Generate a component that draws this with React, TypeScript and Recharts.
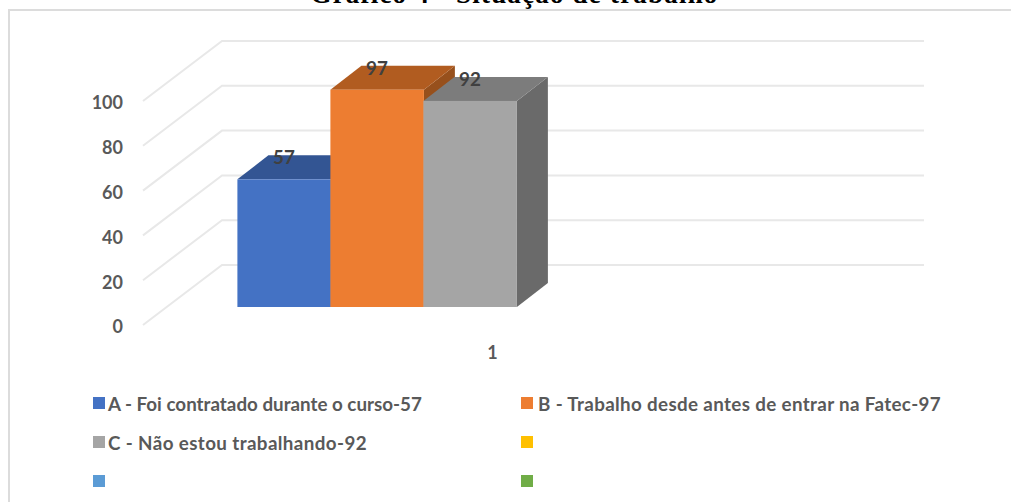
import React from "react";
import { BarChart, Bar, XAxis, YAxis, CartesianGrid, Legend, LabelList } from "recharts";

const categories = ["1"];
const seriesKeys = ["a", "b", "c", "d", "e", "f"];
const seriesNames = [
  "A - Foi contratado durante o curso-57",
  "B - Trabalho desde antes de entrar na Fatec-97",
  "C - Não estou trabalhando-92",
  "",
  "",
  "",
];
const seriesValues: (number | null)[] = [57, 97, 92, null, null, null];
const frontColors = ["#4472C4", "#ED7D31", "#A5A5A5", "#FFC000", "#5B9BD5", "#70AD47"];
const topColors = ["#335593", "#B15C20", "#7C7C7C", "#BF9000", "#44749F", "#548235"];
const sideColors = ["#2A477B", "#97501C", "#6A6A6A", "#A07800", "#3A6285", "#476E2D"];
const yTicks = [0, 20, 40, 60, 80, 100];
const titleText = "Gráfico 4 - Situação de trabalho";

const data = categories.map((c) => {
  const row: Record<string, string | number | null> = { cat: c };
  seriesKeys.forEach((k, i) => (row[k] = seriesValues[i]));
  return row;
});

const FONT = "Lato, sans-serif";
const WALL_DX = 79;
const WALL_DY = 60;
const BAR_DX = 23.5;
const BAR_DY = 18;
const DEPTH_X = 31;
const DEPTH_Y = 24;
const BAR_EXTRA = 0.5;

const GridLine = (p: any) => (
  <polyline
    points={`${p.x1},${p.y1} ${p.x1 + WALL_DX},${p.y1 - WALL_DY} ${p.x2 + WALL_DX},${p.y1 - WALL_DY}`}
    fill="none"
    stroke="#E8E8E8"
    strokeWidth={2}
  />
);

const bar3d = (i: number) => (p: any) => {
  if (p.value == null || !p.height) return <g />;
  const x = p.x + BAR_DX;
  const y = p.y - BAR_DY;
  const w = p.width + BAR_EXTRA;
  const h = p.height;
  return (
    <g>
      <polygon
        points={`${x + w},${y} ${x + w + DEPTH_X},${y - DEPTH_Y} ${x + w + DEPTH_X},${y + h - DEPTH_Y} ${x + w},${y + h}`}
        fill={sideColors[i]}
      />
      <polygon
        points={`${x},${y} ${x + DEPTH_X},${y - DEPTH_Y} ${x + w + DEPTH_X},${y - DEPTH_Y} ${x + w},${y}`}
        fill={topColors[i]}
      />
      <rect x={x} y={y} width={w} height={h} fill={frontColors[i]} />
    </g>
  );
};

const DataLabel = (p: any) => {
  if (p.value == null) return null;
  return (
    <text
      x={p.x + p.width / 2 + BAR_DX}
      y={p.y - BAR_DY - 15}
      textAnchor="middle"
      fontFamily={FONT}
      fontWeight={700}
      fontSize={18.8}
      fill="#404040"
    >
      {p.value}
    </text>
  );
};

const legendCols = [93, 521];
const legendRows = [403, 442, 481];
const legendSpacing = [0, 0.35, 0.39, 0, 0, 0];
const legendGaps = [3, 5, 3, 3, 3, 3];

const LegendContent = () => (
  <div style={{ position: "relative", height: 0 }}>
    {seriesNames.map((name, i) => (
      <div
        key={i}
        style={{
          position: "absolute",
          left: legendCols[i % 2],
          top: legendRows[Math.floor(i / 2)] - 12,
          height: 24,
          display: "flex",
          alignItems: "center",
          whiteSpace: "nowrap",
          fontFamily: FONT,
          fontWeight: 700,
          fontSize: 18.8,
          letterSpacing: legendSpacing[i],
          color: "#595959",
        }}
      >
        <span style={{ width: 12, height: 12, background: frontColors[i], marginRight: legendGaps[i], display: "inline-block" }} />
        {name}
      </div>
    ))}
  </div>
);

export default function App() {
  return (
    <div style={{ position: "absolute", left: 0, top: 0, width: 1011, height: 502, overflow: "hidden", background: "#fff" }}>
      <div
        style={{
          position: "absolute",
          left: 8,
          top: 9,
          width: 1011,
          height: 502,
          borderLeft: "2px solid #DCDCDC",
          borderTop: "2px solid #DCDCDC",
        }}
      />
      <div
        style={{
          position: "absolute",
          left: 0,
          width: 1029,
          top: -21,
          textAlign: "center",
          fontFamily: "Liberation Serif, serif",
          fontWeight: 700,
          fontSize: 27,
          letterSpacing: 1.2,
          lineHeight: "30px",
          color: "#000",
        }}
      >
        {titleText}
      </div>
      <div style={{ position: "absolute", left: 0, top: 0 }}>
        <BarChart
          width={1011}
          height={502}
          data={data}
          margin={{ top: 101, right: 166, bottom: 147, left: 83 }}
          barGap={0}
          barCategoryGap="10.1%"
        >
          <CartesianGrid vertical={false} horizontal={(p: any) => <GridLine {...p} />} />
          <XAxis
            dataKey="cat"
            axisLine={false}
            tickLine={false}
            height={30}
            tickMargin={15}
            tick={{ fontFamily: FONT, fontWeight: 700, fontSize: 18, fill: "#595959", dx: -1.5 }}
          />
          <YAxis
            width={60}
            domain={[0, 100]}
            ticks={yTicks}
            axisLine={false}
            tickLine={false}
            tickMargin={14}
            tick={{ fontFamily: FONT, fontWeight: 700, fontSize: 18, fill: "#595959", dy: 2 }}
          />
          <Legend content={<LegendContent />} height={0} wrapperStyle={{ left: 0, top: 0, bottom: "auto", width: 1011, height: 0 }} />
          {seriesKeys.map((k, i) => (
            <Bar key={k} dataKey={k} name={seriesNames[i] || k} isAnimationActive={false} shape={bar3d(i)}>
              <LabelList dataKey={k} content={<DataLabel />} />
            </Bar>
          ))}
        </BarChart>
      </div>
    </div>
  );
}
